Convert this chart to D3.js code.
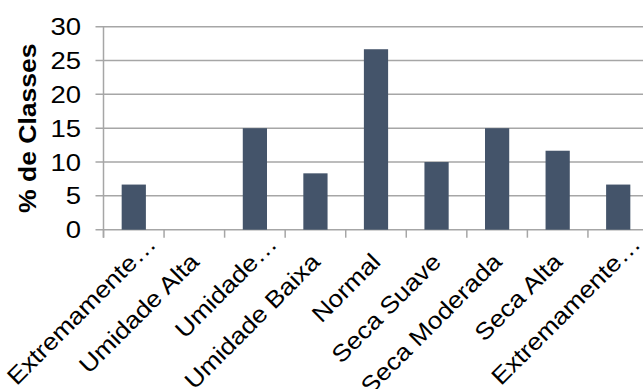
<!DOCTYPE html>
<html><head><meta charset="utf-8">
<script src="https://cdn.jsdelivr.net/npm/d3@7"></script>
<style>html,body{margin:0;padding:0;background:#fff;overflow:hidden}svg{display:block}</style>
</head><body>
<script>
const categories = ["Extremamente…","Umidade Alta","Umidade…","Umidade Baixa","Normal","Seca Suave","Seca Moderada","Seca Alta","Extremamente…"];
const values = [6.67, 0, 15, 8.33, 26.67, 10, 15, 11.67, 6.67];
const yTicks = [0,5,10,15,20,25,30];
const yTitle = "% de Classes";

(function () {
const W = 643, H = 389;
const pLeft = 103.5, pTop = 26.7, pBottom = 229.7, pRight = 648.5;
const svg = d3.select("body").append("svg").attr("width", W).attr("height", H);
const font = "Liberation Sans, Arial, sans-serif";

const x = d3.scaleBand().domain(d3.range(categories.length)).range([pLeft, pRight]).paddingInner(0.6).paddingOuter(0.3);
const y = d3.scaleLinear().domain([0, 30]).range([pBottom, pTop]);
const step = x.step();

// gridlines
svg.append("g").selectAll("line").data(yTicks).join("line")
  .attr("x1", pLeft - 8).attr("x2", pRight)
  .attr("y1", d => y(d)).attr("y2", d => y(d))
  .attr("stroke", "#a6a6a6").attr("stroke-width", 1.5);

// y axis line
svg.append("line").attr("x1", pLeft).attr("x2", pLeft).attr("y1", pTop).attr("y2", pBottom + 8)
  .attr("stroke", "#a6a6a6").attr("stroke-width", 1.5);

// category ticks
svg.append("g").selectAll("line").data(d3.range(categories.length + 1)).join("line")
  .attr("x1", i => pLeft + i * step).attr("x2", i => pLeft + i * step)
  .attr("y1", pBottom).attr("y2", pBottom + 8)
  .attr("stroke", "#a6a6a6").attr("stroke-width", 1.5);

// bars
svg.append("g").selectAll("rect").data(values).join("rect")
  .attr("x", (d, i) => x(i)).attr("width", x.bandwidth())
  .attr("y", d => y(d)).attr("height", d => pBottom - y(d))
  .attr("fill", "#44546a");

// y tick labels
svg.append("g").selectAll("text").data(yTicks).join("text")
  .attr("transform", d => `translate(81,${y(d)}) scale(1.17,1)`)
  .attr("dy", "0.36em")
  .attr("text-anchor", "end").attr("font-family", font).attr("font-size", 23.5)
  .attr("fill", "#000").text(d => d);

// x labels
const ellW = 25;
svg.append("g").selectAll("text").data(categories).join("text")
  .attr("text-anchor", "end").attr("font-family", font).attr("font-size", 23.5)
  .attr("fill", "#000")
  .attr("transform", (d, i) => `translate(${x(i) + x.bandwidth() / 2 + 6},${pBottom + 33.5}) rotate(-45) translate(${d.endsWith("…") ? ellW : 0},0) scale(1.13,1)`)
  .text(d => d);

// y title
svg.append("text").attr("transform", `translate(36,${(pTop + pBottom) / 2}) rotate(-90) scale(1.13,1)`)
  .attr("text-anchor", "middle").attr("font-family", font).attr("font-size", 23.5)
  .attr("font-weight", "bold").attr("fill", "#000").text(yTitle);
})();
</script>
</body></html>
